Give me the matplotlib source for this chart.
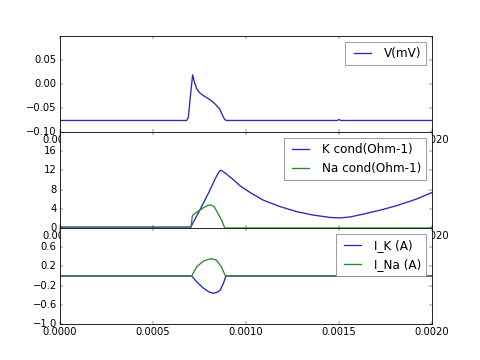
import matplotlib
matplotlib.use('Agg')
import matplotlib.pyplot as plt

# membrane potential (V)
t_v = [0, 0.000681, 0.000690, 0.000700, 0.000713, 0.000722, 0.000735, 0.000750,
       0.000770, 0.000800, 0.000824, 0.000845, 0.000860, 0.000870, 0.000878,
       0.000886, 0.000895, 0.00149, 0.0015, 0.00151, 0.002]
v = [-0.076, -0.076, -0.070, -0.030, 0.019, 0.005, -0.010, -0.018,
     -0.024, -0.031, -0.038, -0.046, -0.053, -0.062, -0.069,
     -0.074, -0.076, -0.076, -0.074, -0.076, -0.076]

# conductances
t_gk = [0, 0.000703, 0.000750, 0.000800, 0.000835, 0.000850, 0.000862, 0.000872,
        0.000890, 0.000905, 0.000925, 0.000968, 0.001022, 0.001093, 0.001180,
        0.001273, 0.001360, 0.001452, 0.001505, 0.001560, 0.001631, 0.001720,
        0.001810, 0.001918, 0.002]
g_k = [0.2, 0.2, 3.6, 7.4, 10.3, 11.4, 12.0, 11.9,
       11.4, 10.9, 10.3, 8.8, 7.4, 5.8, 4.5,
       3.4, 2.7, 2.2, 2.1, 2.3, 2.9, 3.7,
       4.65, 6.05, 7.4]
t_gna = [0, 0.000703, 0.000712, 0.000725, 0.000770, 0.000795, 0.000810, 0.000830,
         0.000851, 0.000871, 0.000880, 0.000887, 0.002]
g_na = [0, 0, 2.6, 3.0, 4.2, 4.7, 4.8, 4.4, 2.9, 1.5, 0.5, 0, 0]

# currents
t_ik = [0, 0.000708, 0.000735, 0.000770, 0.000800, 0.000824, 0.000845, 0.000860,
        0.000878, 0.000892, 0.002]
i_k = [0, 0, -0.12, -0.25, -0.33, -0.36, -0.34, -0.30, -0.16, 0, 0]
t_ina = [0, 0.000708, 0.000735, 0.000770, 0.000800, 0.000815, 0.000841,
         0.000868, 0.000887, 0.000892, 0.002]
i_na = [0, 0, 0.19, 0.31, 0.35, 0.36, 0.33, 0.19, 0.02, 0, 0]

plt.style.use('classic')
plt.rcParams['legend.edgecolor'] = '0.55'
plt.rcParams['lines.linewidth'] = 1.6
fig = plt.figure(figsize=(8, 6), dpi=60)

blue = '#2a2ab8'
green = '#2a8a2a'

ax1 = plt.subplot(311)
ax1.plot(t_v, v, color=blue, label='V(mV)')
ax1.set_ylim(-0.1, 0.1)
ax1.set_yticks([-0.10, -0.05, 0.00, 0.05])
ax1.set_xlim(0, 0.002)
ax1.legend(loc='upper right')

ax2 = plt.subplot(312)
ax2.plot(t_gk, g_k, color=blue, label='K cond(Ohm-1)')
ax2.plot(t_gna, g_na, color=green, label='Na cond(Ohm-1)')
ax2.set_ylim(0, 20)
ax2.set_yticks([0, 4, 8, 12, 16])
ax2.set_xlim(0, 0.002)
ax2.legend(loc='upper right')

ax3 = plt.subplot(313)
ax3.plot(t_ik, i_k, color=blue, label='I_K (A)')
ax3.plot(t_ina, i_na, color=green, label='I_Na (A)')
ax3.set_ylim(-1, 1)
ax3.set_yticks([-1.0, -0.6, -0.2, 0.2, 0.6])
ax3.set_xlim(0, 0.002)
ax3.legend(loc='upper right')

plt.subplots_adjust(hspace=0)
plt.savefig('out.png', dpi=60)
